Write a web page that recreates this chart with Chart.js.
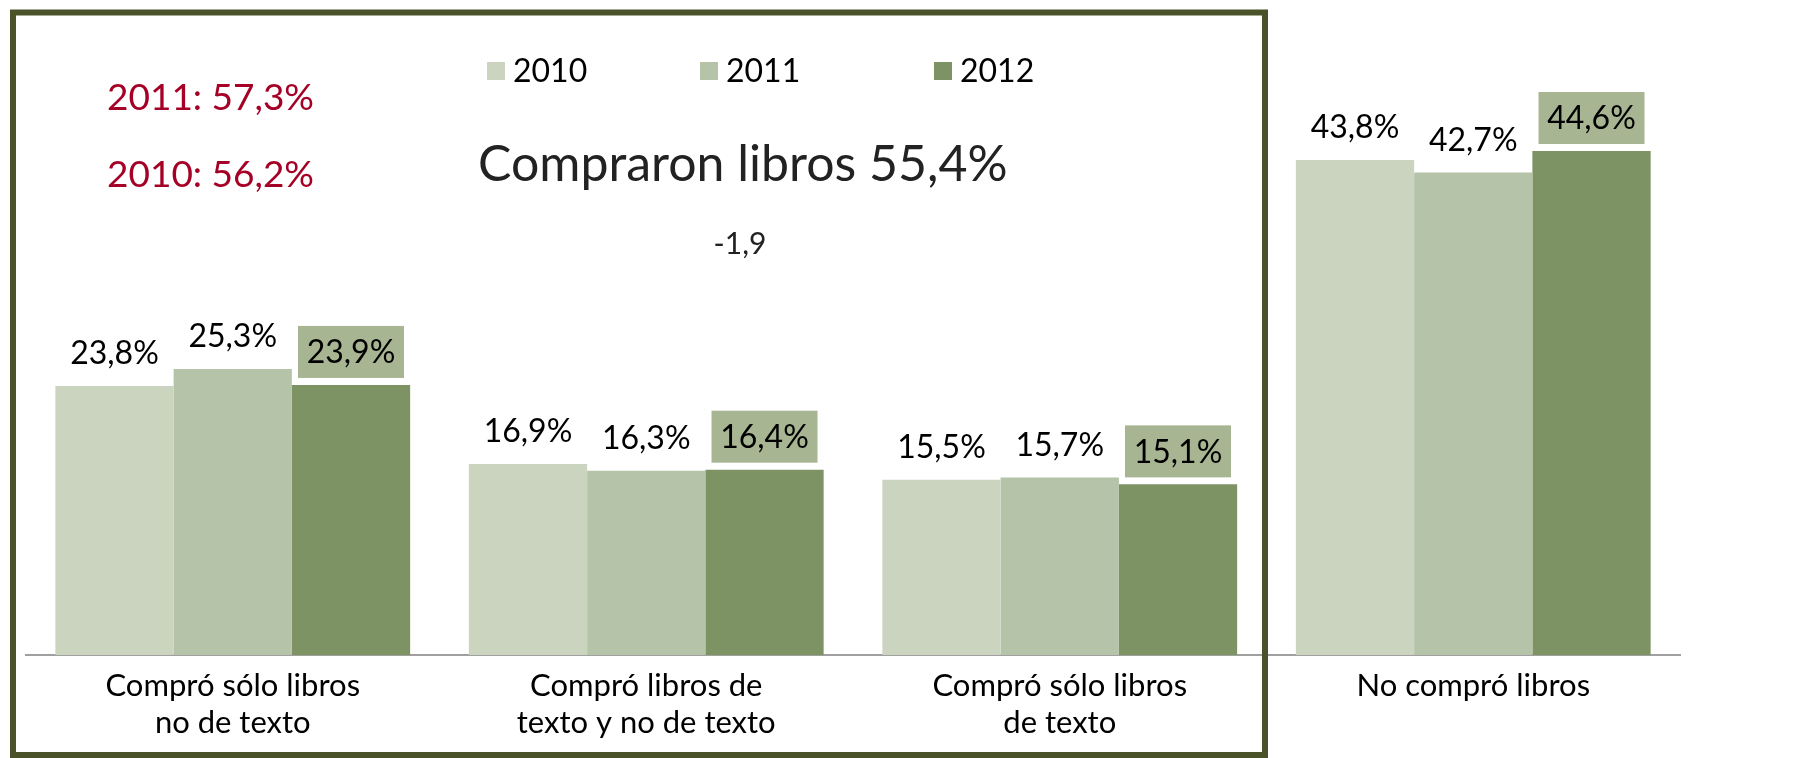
<!DOCTYPE html>
<html>
<head>
<meta charset="utf-8">
<script src="https://cdn.jsdelivr.net/npm/chart.js@4"></script>
<style>
  html, body { margin: 0; padding: 0; background: #fff; }
  #wrap { width: 1797px; height: 758px; position: relative; }
</style>
</head>
<body>
<div id="wrap"><canvas id="librosChart"></canvas></div>
<script>
// categorías y porcentajes por año
const categorias = [
  ['Compró sólo libros', 'no de texto'],
  ['Compró libros de', 'texto y no de texto'],
  ['Compró sólo libros', 'de texto'],
  ['No compró libros']
];
const anios = ['2010', '2011', '2012'];
const valores2010 = [23.8, 16.9, 15.5, 43.8];
const valores2011 = [25.3, 16.3, 15.7, 42.7];
const valores2012 = [23.9, 16.4, 15.1, 44.6];

// textos del recuadro
const totalesAnteriores = ['2011: 57,3%', '2010: 56,2%'];
const titulo = 'Compraron libros 55,4%';
const variacion = '-1,9';

const colores = ['#cad4bf', '#b5c3a8', '#7e9363'];
const fuente = 'Lato, "Open Sans", sans-serif';

const formato = v => v.toFixed(1).replace('.', ',') + '%';

// etiquetas de valor encima de cada barra (2012 con fondo)
const etiquetas = {
  id: 'etiquetas',
  afterDatasetsDraw(chart) {
    const ctx = chart.ctx;
    ctx.save();
    ctx.font = '32px ' + fuente;
    ctx.textAlign = 'center';
    ctx.textBaseline = 'middle';
    chart.data.datasets.forEach((ds, i) => {
      chart.getDatasetMeta(i).data.forEach((bar, j) => {
        const y = bar.y - 33;
        if (i === 2) {
          ctx.fillStyle = '#a7b592';
          ctx.fillRect(bar.x - 53, y - 26, 106, 52);
        }
        ctx.fillStyle = '#000';
        ctx.fillText(formato(ds.data[j]), bar.x, y + 1);
      });
    });
    ctx.restore();
  }
};

// marco, leyenda y textos
const decoracion = {
  id: 'decoracion',
  afterDraw(chart) {
    const ctx = chart.ctx;
    ctx.save();
    ctx.strokeStyle = '#4a5229';
    ctx.lineWidth = 6;
    ctx.strokeRect(13, 12.5, 1252, 742.5);

    // leyenda
    const leyendaX = [487, 700, 934];
    ctx.font = '32px ' + fuente;
    ctx.textBaseline = 'middle';
    ctx.textAlign = 'left';
    chart.data.datasets.forEach((ds, i) => {
      ctx.fillStyle = ds.backgroundColor;
      ctx.fillRect(leyendaX[i], 62, 18, 18);
      ctx.fillStyle = '#000';
      ctx.fillText(ds.label, leyendaX[i] + 26, 72);
    });

    ctx.fillStyle = '#a50026';
    ctx.font = '37px ' + fuente;
    ctx.fillText(totalesAnteriores[0], 107, 98);
    ctx.fillText(totalesAnteriores[1], 107, 175);

    ctx.fillStyle = '#222';
    ctx.font = '50px ' + fuente;
    ctx.fillText(titulo, 478, 165);

    ctx.font = '30px ' + fuente;
    ctx.textAlign = 'center';
    ctx.fillText(variacion, 740, 244);
    ctx.restore();
  }
};

const ctx = document.getElementById('librosChart').getContext('2d');
const librosChart = new Chart(ctx, {
  type: 'bar',
  data: {
    labels: categorias,
    datasets: [
      { label: anios[0], data: valores2010, backgroundColor: colores[0] },
      { label: anios[1], data: valores2011, backgroundColor: colores[1] },
      { label: anios[2], data: valores2012, backgroundColor: colores[2] }
    ]
  },
  options: {
    responsive: true,
    maintainAspectRatio: false,
    animation: false,
    barPercentage: 1,
    categoryPercentage: 0.858,
    layout: { padding: { left: 26, right: 117, top: 90, bottom: 0 } },
    plugins: {
      legend: { display: false },
      tooltip: { enabled: false }
    },
    scales: {
      x: {
        grid: { display: false },
        border: { display: true, color: '#a0a0a0', width: 2 },
        ticks: {
          color: '#000',
          padding: 4,
          maxRotation: 0,
          font: { family: fuente, size: 31, lineHeight: 1.2 }
        },
        afterFit(scale) { scale.height = 103; }
      },
      y: { display: false, min: 0, max: 50 }
    }
  },
  plugins: [etiquetas, decoracion]
});
</script>
</body>
</html>
